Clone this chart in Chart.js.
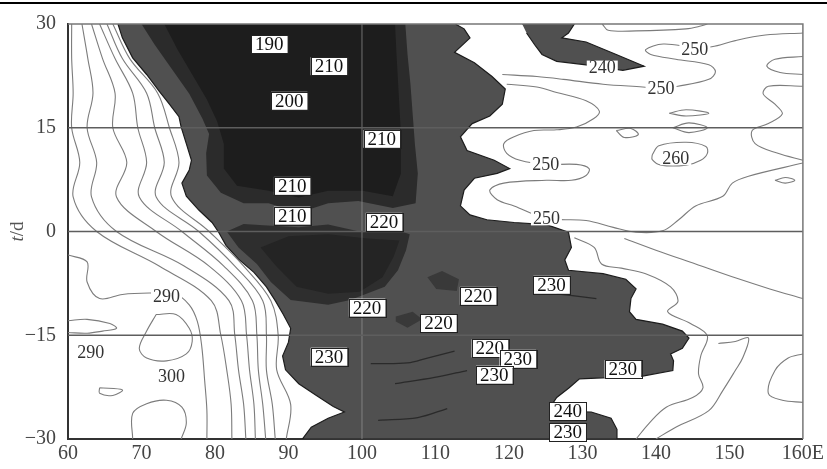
<!DOCTYPE html>
<html><head><meta charset="utf-8">
<script src="https://cdn.jsdelivr.net/npm/chart.js@4/dist/chart.umd.min.js"></script>
<style>html,body{margin:0;padding:0;background:#fff;}#wrap{width:827px;height:469px;}</style>
</head><body><div id="wrap"><canvas id="c" width="827" height="469"></canvas></div>
<script>
// ---- axes ----
const xTickValues = [60,70,80,90,100,110,120,130,140,150,160];
const xTickLabels = ['60','70','80','90','100','110','120','130','140','150','160E'];
const yTickValues = [30,15,0,-15,-30];
const yTickLabels = ['30','15','0','\u221215','\u221230'];
const gridDays = [15,0,-15];
const gridLon = [100];

// ---- shaded regions (lon, day) ----
const regionBelow240 = [[66.8,30],[67.4,28],[68.8,25.1],[70.7,22.7],[72.4,20.3],[73.8,18.4],[75.1,16.6],[75.4,15.1],[76.1,12.7],[76.8,10.3],[76.5,8.9],[75.5,7],[76.1,5.1],[77.8,3.1],[79.6,1.3],[80.5,-0.1],[81.5,-2],[83.2,-4],[85.3,-5.9],[87.0,-8],[88.2,-10],[89.3,-12],[90.3,-14],[90.0,-16],[89.2,-18],[89.6,-20],[91.4,-22],[93.8,-23.7],[96.1,-25.3],[97.6,-26.1],[95.4,-27],[93.1,-28.3],[91.9,-30],
 [134.6,-30],[134.7,-28.6],[133.9,-27],[131.2,-26.1],[126.5,-26],[125.8,-25.1],[126.5,-24],[128.2,-22.6],[129.6,-21.3],[138.2,-20.9],[142.3,-20.1],[142.4,-18.7],[142.0,-17.7],[143.6,-16.9],[144.5,-15.4],[143.6,-14.4],[140.9,-13.4],[137.3,-12.7],[136.4,-11.6],[136.6,-9.7],[137.3,-8.3],[135.9,-6.9],[132.8,-6.1],[128.1,-5.6],[127.6,-4.1],[128.5,-2.3],[128.1,-0.1],[125.1,1.0],[120.7,1.3],[117.0,1.7],[114.7,2.4],[113.4,3.7],[113.9,6],[115.3,7.7],[118.4,8.4],[120.1,9.1],[118.0,10.3],[114.3,11.7],[113.4,13.7],[115.0,15.6],[117.4,16.7],[119.1,18.4],[119.5,20.6],[117.7,22.4],[115.3,24.4],[112.6,25.9],[114.7,28],[113.9,29.3],[112.7,30]];
const blobBelow240 = [[121.8,30],[128.9,30],[128.1,28.7],[127.2,28],[130.5,27.4],[134.6,25.6],[138.4,23.9],[135.5,23.3],[130.5,24.1],[126.5,24.6],[124.5,25.6],[123.5,27],[122.4,28.7]];
const regionBelow220Top = [[70.0,30],[71.8,27],[74.2,23.4],[76.5,19.9],[78.3,16.3],[79.2,14.1],[78.8,11.3],[78.9,8.1],[80.8,5.6],[83.9,4.1],[87.3,4.1],[91.4,2.7],[95.4,4.1],[99.5,4.4],[104.2,3.4],[107.3,4.1],[107.6,8.4],[107.2,12.7],[106.9,17],[106.6,21.3],[106.2,25.6],[105.9,30]];
const regionBelow220Low = [[81.6,0],[83.2,-2.3],[85.7,-4.7],[87.6,-7.3],[90.3,-9.9],[95.4,-10.6],[98.4,-9.9],[103.1,-8],[104.9,-5.6],[106.0,-2.7],[106.5,-0.4],[104.2,0.4],[100.1,-0.1],[95.4,1],[91.4,0.6],[86.6,0.9],[83.9,1.1]];
const regionBelow210Top = [[73.1,30],[74.9,26.3],[76.9,22.7],[78.9,19.1],[80.3,15.9],[81.2,12.7],[81.2,9.1],[83.0,6.6],[87.3,5.9],[91.4,4.9],[95.4,5.9],[100.1,5.9],[104.2,5.1],[105.3,8.4],[105.3,14.1],[105.0,19.9],[104.7,25.6],[104.5,30]];
const regionBelow210Low = [[86.2,-2.3],[88.4,-5.1],[91.1,-8],[95.4,-9],[99.7,-8.7],[102.8,-6.6],[104.3,-3.7],[105.1,-1.3],[100.8,-1],[95.4,-0.4],[90.0,-0.7]];
const patchA = [[108.9,-6.6],[110.9,-5.7],[113.2,-6.9],[112.9,-8.6],[110.1,-8.3]];
const patchB = [[104.6,-12.3],[106.9,-11.6],[108.2,-12.7],[106.2,-13.9],[104.6,-13]];
const inner1 = [[101.2,-19.1],[106.2,-19],[108.9,-18.3],[112.6,-17.3]];
const inner2 = [[104.5,-22],[109.9,-21.1],[114.3,-20.1]];
const inner3 = [[102.2,-27.3],[107.6,-26.9],[111.6,-25.6]];
const inner4 = [[126.5,-9],[131.9,-9.7]];

// ---- west contour lines: longitude at each day ----
const tSteps = [30,25,20,15,10,5,0,-5,-10,-15,-20,-25,-30];
const west1 = [60.5,60.5,60.7,60.5,61.6,60.7,63.9,72.4,79.5,80.8,81.6,82.2,82.3];
const west2 = [61.9,62.7,63.4,62.6,63.9,63.2,66.6,75.8,81.9,82.7,83.2,83.9,84.2];
const west3 = [63.2,64.7,66.4,66.1,68.0,66.6,72.0,79.2,83.6,84.3,84.7,85.3,85.5];
const west4 = [64.3,66.4,68.8,69.5,70.7,69.7,75.5,81.2,85.1,85.7,85.9,86.5,86.9];
const west5 = [65.3,67.4,70.7,71.8,73.1,72.0,77.8,82.7,86.5,87.0,87.0,87.8,88.2];
const west6 = [66.1,68.4,72.2,73.8,75.1,74.1,79.2,83.9,87.6,88.6,88.4,90.3,89.7];
const west290 = [[60,-3.4],[62.6,-4.4],[62.6,-7.3],[64.3,-9.7],[67.4,-9.1],[71.1,-8.9],[74.5,-9],[76.5,-10.6],[77.6,-13],[78.2,-16.6],[78.6,-21.6],[78.9,-25.9],[78.9,-30]];
const loop290 = [[60,-12.9],[62.6,-12.7],[65.7,-13.3],[66.6,-14.0],[64.7,-14.4],[62.6,-14.7],[60,-14.6]];
const loop300 = [[72.0,-12.0],[74.7,-12.0],[76.5,-14.0],[76.9,-15.9],[76.1,-17.7],[73.4,-18.7],[70.7,-18.3],[69.7,-16.9],[70.7,-14.4],[72.0,-12.0]];
const loopSmall = [[64.3,-22.6],[67.4,-22.9],[66.1,-23.7],[64.3,-23.4],[64.3,-22.6]];
const bump300 = [[68.8,-30],[68.8,-26.3],[70.7,-24.9],[73.4,-24.4],[75.5,-25.4],[76.1,-27.7],[75.4,-30]];

// ---- east contour lines ----
const east1 = [[132.7,30],[133.5,29.1],[137.3,29],[144.1,29.3],[146.1,29.7],[147.0,30]];
const east2 = [[119.1,22.7],[123.8,22.4],[127.4,22],[132.8,21.3],[138.2,20.9],[140.7,20.7],[143.0,21],[147.2,22],[148.1,23.1],[147.2,24.1],[142.7,24.9],[139.3,25.6],[138.6,26.3],[141.0,27.1],[145.3,26.6],[147.6,26.7],[150.8,27.6],[154.9,28.4],[160,28.7]];
const east3 = [[160,25.3],[156.2,24.9],[155.1,23.9],[156.9,23],[160,22.7]];
const east4 = [[160,21],[155.3,21],[154.6,19.9],[156.2,18.4],[157.2,17],[155.3,15.6],[153.1,14.6],[153.5,12.7],[156.6,11.3],[160,10.3]];
const east5 = [[141.8,17.1],[144.1,17.6],[147.2,17.1],[144.1,16.7],[141.8,17.1]];
const east6 = [[142.3,15],[144.5,15.7],[147.0,15],[144.5,14.3],[142.3,15]];
const east7 = [[134.6,14.6],[136.6,14.9],[137.6,14],[135.7,13.6],[134.6,14.6]];
const east8 = [[139.5,11.1],[140.4,12.4],[144.1,12.9],[146.8,12.3],[147.0,11.3],[146.1,10.3],[144.1,9.6],[140.7,9.6],[139.5,10.4],[139.5,11.1]];
const east9 = [[119.7,21.3],[123.8,20.9],[126.5,20.1],[130.5,18.9],[132.3,17.4],[131.5,16.3],[129.2,15.1],[126.5,14.7],[123.4,14.6],[120.7,13.7],[119.3,12.7],[119.7,11.3],[121.5,10.3],[125.0,9.7],[129.2,9.7],[130.9,9.1],[130.5,8.1],[128.5,7.4],[125.1,7.4],[119.3,7.0],[117.4,6.0],[118.4,4.6],[120.7,3.7],[125.1,1.9],[130.5,1.6],[134.2,0.6],[137.3,-0.1],[140.9,0.1],[143.1,1.7],[145.4,3.7],[149.1,5.1],[150.4,7],[152.6,8],[160,9.9]];
const east10 = [[128.9,-0.9],[131.6,-2.3],[132.6,-4.7],[135.3,-5.3],[138.6,-6.1],[142.0,-8.0],[143.0,-10.1],[141.6,-11.6],[144.7,-13.3],[147.0,-15.1],[146.1,-18.0],[145.8,-20.6],[146.4,-22.6],[145.0,-24.0],[141.4,-25.4],[139.1,-27.7],[137.3,-30]];
const east11 = [[135.7,-1],[140.0,-2.7],[145.4,-4.7],[150.8,-6.7],[155.5,-8.3],[160,-9.7]];
const east12 = [[148.5,-16.2],[150.8,-15.9],[152.6,-15.4],[151.8,-18.3],[150.8,-20.1],[149.1,-23],[147.2,-25.9],[142.7,-28.3],[140,-30]];
const east13 = [[160,-17.7],[158,-18.3],[156.2,-20.1],[155.3,-23.4],[157.2,-24.4],[160,-24.7]];
const east14 = [[156.2,7.4],[157.6,7.8],[158.9,7.4],[157.6,7.0],[156.2,7.4]];

// ---- contour labels ----
const boxLabelText = ['190','210','200','210','210','210','220','230','220','220','220','230','220','230','230','230','240','230'];
const boxLabelLon  = [87.4,95.5,90.1,102.7,90.5,90.5,103.0,125.8,115.8,100.7,110.4,95.5,117.4,121.2,118.0,135.5,128.0,128.0];
const boxLabelT    = [27.1,23.9,18.9,13.4,6.6,2.3,1.4,-7.7,-9.3,-11,-13.3,-18.1,-16.9,-18.4,-20.7,-19.9,-26,-29];
const plainLabelText = ['250','240','250','250','260','250','290','290','300'];
const plainLabelLon  = [145.3,132.7,140.7,125.0,142.7,125.1,73.4,63.1,74.1];
const plainLabelT    = [26.4,23.7,20.7,9.7,10.6,1.9,-9.4,-17.4,-20.9];

// ---- build datasets ----
const pts = a => a.map(p => ({x:p[0], y:p[1]}));
function area(a, color, order, edge){
  return {data: pts(a), showLine:true, fill:'shape', backgroundColor:color,
    borderColor: edge || color, borderWidth: edge ? 1.2 : 0, pointRadius:0, tension:0, order};
}
function line(a, color, width, order, tension){
  return {data: pts(a), showLine:true, fill:false, borderColor:color, borderWidth:width,
    pointRadius:0, tension: tension===undefined?0.35:tension, order};
}
const datasets = [];
datasets.push(area(regionBelow240, '#505050', 60, '#1c1c1c'));
datasets.push(area(blobBelow240, '#505050', 60, '#1c1c1c'));
datasets.push(area(regionBelow220Top, '#2b2b2b', 50));
datasets.push(area(regionBelow220Low, '#2e2e2e', 50));
datasets.push(area(regionBelow210Top, '#1d1d1d', 45));
datasets.push(area(regionBelow210Low, '#242424', 45));
datasets.push(area(patchA, '#393939', 44));
datasets.push(area(patchB, '#393939', 44));
[inner1,inner2,inner3,inner4].forEach(a => datasets.push(line(a,'#2a2a2a',1.3,40)));
const westLines = [west1,west2,west3,west4,west5,west6];
westLines.forEach(w => datasets.push(line(w.map((lon,i)=>[lon,tSteps[i]]),'#7c7c7c',1.1,30)));
[west290,loop290,loop300,loopSmall,bump300].forEach(a => datasets.push(line(a,'#7c7c7c',1.1,30)));
[east1,east2,east3,east4,east5,east6,east7,east8,east9,east10,east11,east12,east13,east14].forEach(a => datasets.push(line(a,'#7c7c7c',1.1,30)));
gridLon.forEach(v => datasets.push(line([[v,30],[v,-30]],'rgba(150,150,150,0.28)',1,20,0)));
gridDays.forEach(v => datasets.push(line([[60,v],[160,v]],'#5e5e5e',1.3,10,0)));

// ---- plugins ----
const pagePlugin = {
  id:'page',
  beforeDraw(chart){
    const c = chart.ctx;
    c.save(); c.fillStyle='#fff'; c.fillRect(0,0,chart.width,chart.height);
    c.fillStyle='#000'; c.fillRect(0,2,chart.width,2); c.restore();
  },
  afterDatasetsDraw(chart){
    const c = chart.ctx, a = chart.chartArea;
    const xs = chart.scales.x, ys = chart.scales.y;
    c.save();
    c.textAlign='center'; c.textBaseline='middle';
    c.font = '18px "Liberation Serif"';
    plainLabelText.forEach((t,i)=>{
      const px = xs.getPixelForValue(plainLabelLon[i]), py = ys.getPixelForValue(plainLabelT[i]);
      const w = c.measureText(t).width + 4;
      c.fillStyle='#fff'; c.fillRect(px-w/2, py-7, w, 14);
      c.fillStyle='#333'; c.fillText(t, px, py+1);
    });
    c.font = '19px "Liberation Serif"';
    boxLabelText.forEach((t,i)=>{
      const px = xs.getPixelForValue(boxLabelLon[i]), py = ys.getPixelForValue(boxLabelT[i]);
      const w = c.measureText(t).width + 8, h = 18;
      c.fillStyle='#fff'; c.fillRect(px-w/2, py-h/2, w, h);
      c.strokeStyle='#222'; c.lineWidth=1; c.strokeRect(Math.round(px-w/2)+0.5, Math.round(py-h/2)+0.5, Math.round(w), h);
      c.fillStyle='#111'; c.fillText(t, px, py+1);
    });
    c.strokeStyle='#777'; c.lineWidth=1.5;
    c.beginPath(); c.moveTo(a.left, a.top); c.lineTo(a.right, a.top); c.lineTo(a.right, a.bottom); c.stroke();
    c.translate(18, (a.top+a.bottom)/2); c.rotate(-Math.PI/2);
    c.fillStyle='#555'; c.textAlign='left';
    c.font = 'italic 19px "Liberation Serif"'; const w1 = c.measureText('t').width;
    c.font = '19px "Liberation Serif"'; const w2 = c.measureText('/d').width;
    const sx = -(w1+w2)/2;
    c.font = 'italic 19px "Liberation Serif"'; c.fillText('t', sx, 0);
    c.font = '19px "Liberation Serif"'; c.fillText('/d', sx+w1, 0);
    c.restore();
  }
};

new Chart(document.getElementById('c'), {
  type:'scatter',
  data:{datasets},
  options:{
    responsive:false, animation:false, devicePixelRatio:1,
    layout:{padding:{top:19,right:19,left:0,bottom:0}},
    plugins:{legend:{display:false}, tooltip:{enabled:false}},
    scales:{
      x:{type:'linear', min:60, max:160,
        afterBuildTicks: s => { s.ticks = xTickValues.map(v=>({value:v})); },
        afterFit: s => { s.height = 30; },
        ticks:{autoSkip:false, maxRotation:0, padding:3, color:'#444',
          font:{family:'Liberation Serif', size:20},
          callback: v => xTickLabels[xTickValues.indexOf(v)]},
        grid:{display:false, drawTicks:false},
        border:{display:true, color:'#333', width:2}},
      y:{type:'linear', min:-30, max:30,
        afterBuildTicks: s => { s.ticks = yTickValues.map(v=>({value:v})); },
        afterFit: s => { s.width = 68; },
        ticks:{autoSkip:false, padding:12, color:'#444',
          font:{family:'Liberation Serif', size:20},
          callback: v => yTickLabels[yTickValues.indexOf(v)]},
        grid:{display:false, drawTicks:false},
        border:{display:true, color:'#333', width:2}}
    }
  },
  plugins:[pagePlugin]
});
</script></body></html>
